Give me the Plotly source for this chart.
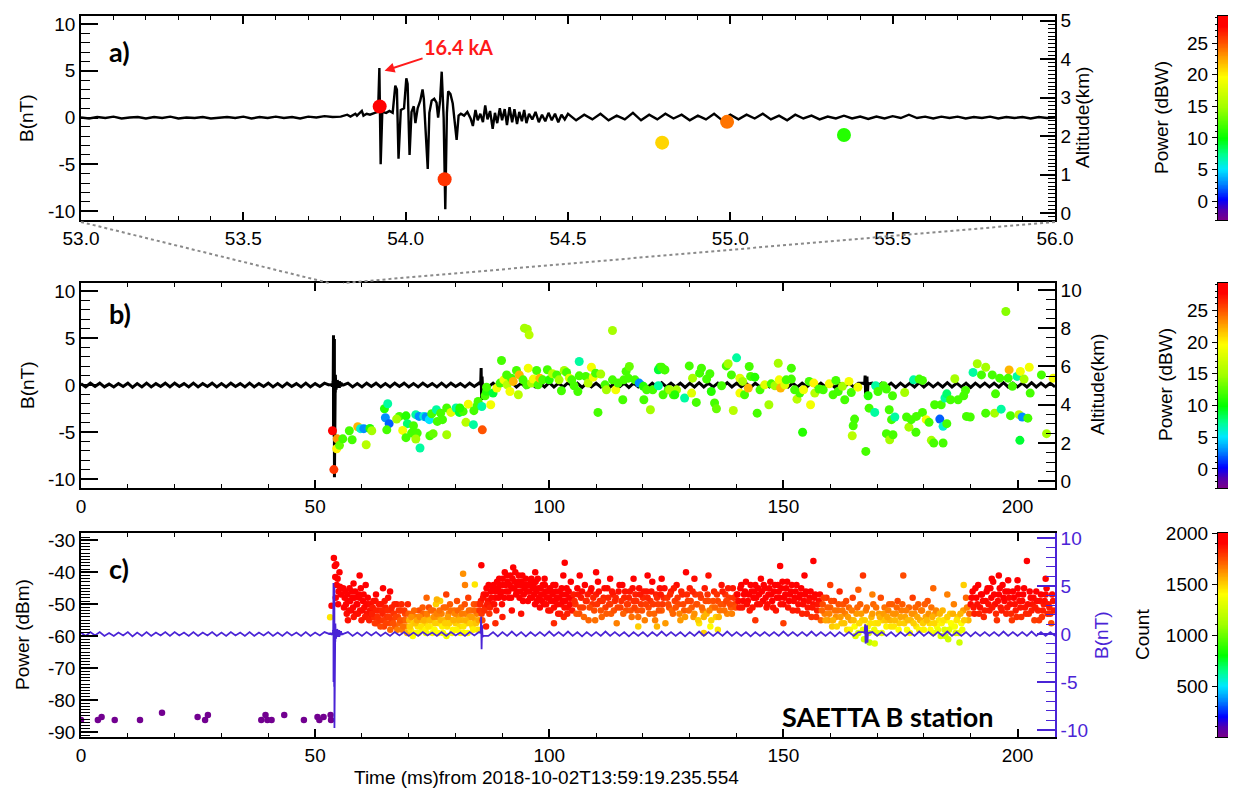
import numpy as np
import plotly.graph_objects as go

# ======================= DATA =======================
# Panel a: magnetic field waveform, 53-56 ms (nT)
a_pre_b = [0.0, -0.1, 0.05, -0.05, 0.1, -0.1, 0.0, 0.05, -0.1, 0.05, -0.05, 0.1, -0.1, 0.0, -0.05, 0.05,
           -0.1, 0.0, 0.05, -0.05, 0.1, -0.1, 0.05, -0.05, 0.1, -0.05, 0.05, -0.1, 0.1, 0.0, 0.15, 0.05]  # from 53.000 every 0.025 ms
a_burst = [(53.80, 0.1), (53.82, 0.3), (53.83, 0.1), (53.845, 0.4), (53.85, 0.2), (53.865, 0.7), (53.87, 0.2),
           (53.88, 0.4), (53.89, 0.3), (53.905, 0.5), (53.915, 0.6), (53.919, 5.3), (53.923, -5.0), (53.928, 0.6),
           (53.94, 0.5), (53.95, 0.7), (53.96, 0.5), (53.968, 3.4), (53.973, 3.0), (53.978, -4.4), (53.985, 0.8),
           (53.995, 1.0), (54.002, 4.2), (54.006, 3.6), (54.012, -4.0), (54.018, 0.6), (54.025, 1.2), (54.03, -0.6),
           (54.037, 1.0), (54.045, 1.8), (54.052, 3.0), (54.056, 2.0), (54.062, -1.5), (54.068, -5.5), (54.073, 0.5),
           (54.08, 1.8), (54.088, 2.0), (54.095, 1.6), (54.10, 0.0), (54.106, 1.8), (54.111, 4.9), (54.117, 0.0),
           (54.122, -9.8), (54.127, 0.5), (54.131, 2.8), (54.138, 2.5), (54.145, 1.5), (54.152, -0.5), (54.157, -2.4),
           (54.163, 0.2), (54.17, 0.4), (54.18, 0.2), (54.19, 0.6), (54.2, -0.1), (54.207, -0.9), (54.215, 0.8),
           (54.222, -0.3), (54.23, 0.4), (54.238, -0.5), (54.245, 1.3), (54.252, -0.2), (54.26, 0.7), (54.268, -1.2),
           (54.275, 0.5), (54.282, -0.6), (54.29, 1.0), (54.297, -0.3), (54.305, 0.9), (54.312, -0.8), (54.32, 1.1),
           (54.328, -0.5), (54.335, 0.9), (54.343, -0.7), (54.35, 0.6), (54.358, -0.4), (54.365, 0.8), (54.372, -0.6),
           (54.38, 0.4), (54.39, -0.2), (54.4, 0.6), (54.41, -0.5), (54.42, 0.3), (54.43, -0.4), (54.44, 0.5),
           (54.45, -0.3), (54.46, 0.4), (54.47, -0.5), (54.48, 0.3), (54.49, -0.2), (54.5, 0.4)]
a_post_b = [-0.3, 0.3, -0.2, 0.4, -0.3, 0.2, -0.2, 0.5, -0.3, 0.3, -0.2, 0.4, -0.1, 0.3, -0.3, 0.2, -0.2, 0.4, -0.3, 0.3,
            -0.2, 0.3, -0.1, 0.4, -0.2, 0.2, -0.3, 0.3, -0.1, 0.2, -0.2, 0.1, -0.1, 0.2, -0.1, 0.1, -0.15, 0.1, -0.1, 0.15,
            -0.05, 0.3, -0.05, 0.1, -0.1, 0.1, -0.05, 0.1, -0.1, 0.05, -0.05, 0.1, -0.1, 0.05, -0.05, 0.05, -0.1, 0.05,
            -0.05, 0.0]  # after 54.5 every 0.025 ms

# Panel a: located sources (time ms, altitude km, power dBW)
a_src_t = [53.92, 54.12, 54.79, 54.99, 55.35]
a_src_alt = [2.77, 0.88, 1.83, 2.37, 2.03]
a_src_pow = [28.5, 26.0, 21.0, 24.0, 11.0]

# Panels b/c: waveform baseline, 1 ms samples (nT)
b_pre = [0.15, -0.2, 0.2, -0.15, 0.2, -0.2, 0.1, -0.2, 0.15, -0.15, 0.2, -0.25, 0.15, -0.2, 0.2, -0.2, 0.15, -0.15,
         0.2, -0.2, 0.2, -0.15, 0.15, -0.2, 0.2, -0.2, 0.15, -0.15, 0.2, -0.2, 0.15, -0.2, 0.2, -0.15, 0.15, -0.2, 0.2,
         -0.2, 0.15, -0.15, 0.2, -0.2, 0.15, -0.2, 0.2, -0.15, 0.15, -0.2, 0.2, -0.2, 0.15, -0.15, 0.2]  # t = 0..52
b_post = [0.2, -0.2, 0.15, -0.2, 0.2, -0.15, 0.2, -0.2, 0.15, -0.2,
          0.2, -0.15, 0.2, -0.2, 0.15, -0.2, 0.2, -0.15, 0.15, -0.2,
          0.2, -0.2, 0.2, -0.15, 0.15, -0.2, 0.2, -0.15, 0.2, -0.2,
          -0.2, 0.2, -0.25, 0.2, -0.2, 0.25, -0.2, 0.2, -0.25, 0.2,
          -0.2, 0.2, -0.2, 0.25, -0.2, 0.2, -0.2, 0.25, -0.2, 0.2,
          -0.25, 0.2, -0.2, 0.2, -0.2, 0.25, -0.2, 0.2, -0.2, 0.2,
          -0.25, 0.2, -0.2, 0.2, -0.25, 0.2, -0.2, 0.25, -0.2, 0.2,
          -0.2, 0.2, -0.25, 0.2, -0.2, 0.25, -0.2, 0.2, -0.2, 0.2,
          -0.2, 0.25, -0.2, 0.2, -0.2, 0.2, -0.25, 0.2, -0.2, 0.2,
          -0.2, 0.2, -0.2, 0.25, -0.2, 0.2, -0.2, 0.2, -0.2, 0.25,
          -0.2, 0.2, -0.2, 0.2, -0.25, 0.2, -0.2, 0.2, -0.2, 0.2,
          0.2, -0.2, 0.2, -0.2, 0.2, -0.2, 0.2, -0.25, 0.2, -0.2,
          0.2, -0.2, 0.25, -0.2, 0.2, -0.2, 0.2, -0.2, 0.25, -0.2,
          0.2, -0.2, 0.2, -0.25, 0.2, -0.2, 0.2, -0.2, 0.2, -0.2,
          0.25, -0.2, 0.2, -0.2, 0.2, -0.2, 0.25, -0.2, 0.2, -0.2,
          0.2, -0.2]  # t = 57..208
# short isolated pulses on the baseline (t ms, B nT)
b_events = [(85.35, 0.1), (85.45, 1.8), (85.55, -1.6), (85.65, 0.9), (85.75, -0.3),
            (167.35, 0.1), (167.45, 1.0), (167.55, -1.0), (167.65, 0.2), (167.85, 0.9), (167.95, -0.9),
            (168.05, 0.1)]

# Panel b: sources (time ms, altitude km, power dBW)
b_src_1 = [(53.7, 2.64, 28), (54.0, 0.61, 26), (54.7, 2.22, 23), (54.6, 1.70, 20), (55.2, 1.88, 13), (55.9, 2.22, 12),
           (57.3, 2.64, 12), (57.9, 2.17, 12), (59.1, 2.85, 22), (59.7, 2.75, 6), (60.4, 2.75, 3), (60.9, 1.91, 16),
           (61.7, 2.76, 11), (62.1, 2.64, 15), (64.8, 3.79, 11), (65.5, 4.05, 7), (65.0, 3.32, 3), (65.8, 3.01, 2),
           (65.3, 2.69, 12), (68.0, 3.39, 12), (67.4, 3.25, 15), (69.4, 3.42, 11), (69.7, 3.01, 8), (68.7, 2.66, 19),
           (69.4, 2.28, 12), (71.0, 2.90, 12), (70.6, 2.52, 12), (71.8, 2.52, 12), (71.5, 2.21, 15), (72.4, 1.74, 7),
           (71.5, 3.48, 7), (72.2, 3.39, 3), (73.2, 3.39, 6), (73.7, 3.36, 3), (74.4, 3.22, 5), (74.9, 3.53, 12),
           (75.9, 3.74, 7), (76.1, 3.13, 12), (76.8, 3.56, 12), (77.2, 3.22, 12), (74.5, 2.38, 12), (75.2, 2.49, 13),
           (78.1, 3.83, 12), (78.1, 2.43, 15), (79.0, 3.60, 18), (80.1, 3.83, 7), (80.8, 3.60, 9), (81.6, 3.65, 12),
           (80.9, 3.83, 11), (82.2, 3.08, 16), (82.7, 4.03, 19), (83.8, 2.96, 7), (83.9, 3.69, 12), (84.6, 3.95, 12),
           (85.7, 2.69, 25), (84.8, 4.17, 12), (85.6, 3.91, 7), (86.3, 4.47, 12), (86.6, 4.70, 11), (87.5, 4.00, 19),
           (86.6, 4.92, 12), (88.0, 4.61, 9), (88.8, 4.87, 19), (89.8, 6.31, 12), (89.5, 5.13, 12)]
b_src_2 = [(90.3, 5.30, 19), (90.9, 5.56, 12), (91.0, 5.04, 16), (91.6, 4.69, 19), (91.9, 5.39, 12), (92.3, 5.22, 22),
           (93.0, 5.79, 12), (93.4, 4.52, 16), (93.6, 5.56, 22), (94.4, 5.30, 12), (94.7, 8.00, 15), (95.3, 7.95, 15),
           (95.7, 7.65, 16), (95.5, 5.91, 19), (95.2, 5.04, 12), (96.2, 5.13, 15), (96.6, 5.34, 19), (97.3, 5.79, 12),
           (97.6, 5.04, 12), (98.0, 5.39, 22), (98.6, 5.30, 12), (99.6, 5.83, 12), (100.0, 5.30, 11), (100.7, 5.62, 16),
           (101.6, 5.56, 12), (102.1, 5.30, 15), (102.6, 4.73, 12), (103.2, 5.79, 15), (103.7, 5.69, 12),
           (104.3, 5.39, 18), (104.8, 5.30, 12), (105.3, 4.99, 12), (106.1, 4.69, 12), (106.4, 6.26, 7),
           (106.4, 5.51, 12), (107.8, 5.48, 12), (108.3, 5.13, 16), (109.0, 5.96, 19), (109.4, 5.44, 19),
           (109.9, 5.65, 12), (110.4, 3.60, 12), (111.0, 5.60, 15), (111.9, 5.04, 12), (112.2, 4.78, 15),
           (113.5, 7.88, 15), (113.5, 5.30, 12), (114.2, 4.78, 19), (114.7, 5.13, 12), (115.7, 4.26, 12),
           (115.9, 5.30, 12), (116.4, 5.74, 12), (117.1, 6.00, 13), (116.9, 5.39, 12), (118.3, 5.30, 12),
           (119.2, 5.13, 3), (120.1, 4.96, 11), (120.2, 4.26, 12), (120.8, 4.78, 12), (121.6, 3.74, 15),
           (122.1, 4.78, 12), (123.3, 4.99, 7), (123.6, 5.96, 12), (123.3, 5.83, 9), (124.6, 5.83, 12),
           (124.3, 4.52, 12), (125.4, 4.78, 12), (126.5, 4.52, 12), (127.2, 4.78, 15)]
b_src_3 = [(124.0, 5.96, 12), (124.7, 5.82, 12), (125.7, 4.78, 15), (126.8, 4.52, 11), (128.9, 4.35, 7),
           (129.9, 6.03, 12), (130.6, 5.39, 15), (130.4, 4.61, 18), (131.4, 4.12, 12), (132.1, 5.65, 12),
           (132.5, 5.91, 12), (133.6, 5.34, 12), (134.3, 5.62, 12), (134.6, 4.69, 11), (135.3, 4.09, 12),
           (135.7, 3.79, 13), (136.8, 4.99, 12), (137.8, 6.03, 12), (138.2, 6.14, 15), (138.9, 5.56, 12),
           (139.3, 3.70, 16), (140.0, 6.45, 7), (140.7, 5.39, 18), (141.3, 5.22, 15), (140.7, 4.61, 19),
           (141.7, 4.52, 12), (142.5, 4.87, 22), (142.7, 6.00, 12), (143.0, 5.48, 12), (143.9, 5.44, 11),
           (144.4, 3.56, 12), (145.0, 4.78, 12), (146.0, 5.04, 18), (146.9, 4.00, 15), (147.4, 5.09, 12),
           (148.2, 4.99, 15), (148.9, 6.17, 15), (149.1, 5.30, 19), (149.4, 4.87, 22), (150.3, 5.04, 18),
           (150.6, 5.30, 12), (151.7, 5.91, 12), (151.7, 5.34, 12), (152.4, 4.78, 12), (152.9, 4.29, 16),
           (153.5, 4.61, 12), (154.1, 2.56, 11), (154.3, 4.78, 19), (155.5, 5.22, 12), (155.8, 4.00, 19),
           (156.5, 5.13, 20), (156.7, 4.61, 16), (157.6, 4.82, 12), (158.5, 4.78, 12), (159.8, 5.09, 19),
           (160.6, 4.52, 12), (161.2, 5.27, 12), (161.7, 4.69, 12), (162.6, 4.96, 15), (163.1, 4.26, 12),
           (164.0, 5.22, 19), (164.5, 4.64, 12), (165.2, 3.25, 12), (164.9, 2.90, 12), (164.7, 2.38, 16),
           (165.9, 4.92, 19), (167.6, 1.56, 12), (168.1, 4.47, 11), (168.3, 3.82, 12), (169.7, 4.99, 7),
           (170.2, 4.69, 12), (169.5, 3.60, 7), (171.4, 4.99, 12), (172.0, 4.82, 12), (172.6, 3.74, 12),
           (173.1, 3.22, 12), (173.8, 3.36, 7), (173.3, 4.47, 12), (172.0, 2.49, 12), (172.7, 2.17, 15),
           (173.4, 2.43, 12), (175.9, 4.64, 15), (176.3, 3.36, 12), (176.8, 2.83, 15), (177.3, 3.22, 12),
           (177.8, 5.30, 7), (178.3, 2.56, 12), (178.4, 3.39, 12), (179.0, 5.34, 12), (179.7, 5.27, 12),
           (179.7, 3.60, 12), (180.5, 3.22, 19), (181.1, 3.08, 12), (181.6, 2.14, 15), (182.1, 2.00, 12),
           (182.3, 4.00, 12), (183.4, 3.25, 2), (183.7, 4.00, 12), (184.1, 2.87, 6), (184.5, 4.35, 7),
           (184.9, 4.57, 8), (184.1, 2.00, 12), (184.9, 3.01, 12), (185.7, 4.26, 12), (186.6, 5.36, 15),
           (187.3, 4.26, 12), (188.5, 4.47, 12), (188.9, 4.75, 12), (189.1, 3.39, 12), (189.9, 3.36, 12),
           (190.5, 5.69, 7), (191.4, 6.14, 15), (192.3, 5.56, 12), (193.2, 5.96, 15), (193.2, 3.56, 12),
           (194.6, 5.56, 12), (195.1, 3.56, 15), (195.3, 4.57, 12), (196.2, 5.39, 12), (196.5, 3.77, 7),
           (197.5, 8.87, 14), (198.2, 5.82, 22), (198.0, 5.39, 12), (198.5, 3.43, 12), (198.9, 4.96, 12),
           (199.9, 5.48, 7), (200.6, 5.74, 19), (200.3, 3.48, 16), (201.0, 3.36, 3), (200.5, 2.14, 9),
           (201.4, 5.34, 15), (202.2, 3.30, 12), (202.5, 5.96, 19), (202.7, 4.61, 12), (205.1, 5.56, 12),
           (206.2, 2.49, 15), (207.6, 5.39, 19)]

# Panel c: VHF sources (time ms, power dBm, count)
c_quiet = [(0.0, -86.3, 20), (3.6, -86.3, 20), (4.4, -85.3, 20), (7.2, -86.3, 20), (12.6, -86.3, 20),
           (17.3, -84.0, 20), (24.9, -85.3, 20), (26.5, -86.3, 20), (27.1, -84.7, 20), (38.5, -86.3, 20),
           (39.4, -84.7, 20), (39.8, -86.3, 20), (40.7, -86.3, 20), (43.4, -84.7, 20), (47.6, -86.3, 20),
           (50.5, -85.3, 20), (50.9, -86.3, 20), (51.8, -85.3, 20), (53.3, -84.7, 20), (53.4, -86.3, 20)]
c_src_1 = [(53.2, -54.1, 1450), (53.5, -50.5, 1950), (54.0, -35.5, 1990), (54.2, -38, 1980), (54.5, -37.5, 1980),
           (54.3, -41.5, 1970), (54.8, -42, 1960), (55.2, -40, 1970), (54.6, -44, 1950), (55.0, -46, 1940),
           (54.4, -48, 1930), (55.5, -47, 1930), (54.9, -50, 1920), (55.3, -44.5, 1950),
           (56.0, -45, 1900), (56.3, -48, 1920), (56.6, -50, 1900), (56.9, -47, 1930), (57.2, -52, 1880),
           (57.5, -49, 1910), (57.8, -46, 1920), (58.1, -51, 1890), (58.4, -48, 1900), (58.7, -53, 1870),
           (59.0, -50, 1900), (59.3, -47, 1930), (59.6, -52, 1880), (59.9, -55, 1850), (60.2, -49, 1900),
           (60.5, -51, 1880), (60.8, -44, 1940), (61.1, -53, 1860), (61.4, -50, 1880), (61.7, -52, 1870),
           (59.5, -41, 1960), (58.2, -43.5, 1950), (57.0, -55, 1870), (62.0, -54, 1850),
           (56.15, -51, 1900), (56.45, -46, 1930), (56.75, -53, 1880), (57.05, -49, 1910), (57.35, -45, 1940),
           (57.65, -52, 1890), (57.95, -48, 1920), (58.25, -54, 1860), (58.55, -46, 1930), (58.85, -50, 1900),
           (59.15, -53, 1870), (59.45, -48, 1920), (59.75, -45, 1940), (60.05, -52, 1880), (60.35, -47, 1920),
           (60.65, -54, 1850), (60.95, -50, 1890), (61.25, -48, 1910), (61.55, -55, 1840), (61.85, -50, 1880)]
c_src_2 = [(62.3, -51, 1850), (62.6, -54, 1820), (62.9, -49, 1870), (63.2, -56, 1800), (63.5, -52, 1850),
           (63.8, -55, 1800), (64.1, -50, 1860), (64.4, -53, 1830), (64.7, -57, 1780), (65.0, -51, 1840),
           (65.3, -54, 1800), (65.6, -48, 1880), (65.9, -56, 1760), (66.2, -52, 1820), (66.5, -55, 1780),
           (66.8, -53, 1800), (67.1, -57, 1720), (67.4, -50, 1850), (67.7, -54, 1760), (68.0, -56, 1700),
           (68.3, -52, 1800), (68.6, -58, 1650), (68.9, -55, 1720), (69.2, -53, 1760), (69.5, -57, 1600),
           (69.8, -50, 1830), (66.0, -46, 1900), (63.0, -47, 1900), (64.5, -45, 1910),
           (62.15, -53, 1840), (62.45, -49, 1870), (62.75, -56, 1790), (63.05, -52, 1840), (63.35, -54, 1810),
           (63.65, -50, 1860), (63.95, -57, 1760), (64.25, -52, 1830), (64.55, -55, 1790), (64.85, -49, 1860),
           (65.15, -56, 1770), (65.45, -52, 1820), (65.75, -54, 1790), (66.05, -58, 1700), (66.35, -51, 1830),
           (66.65, -56, 1740), (66.95, -50, 1840), (67.25, -54, 1770), (67.55, -58, 1660), (67.85, -52, 1800),
           (68.15, -55, 1730), (68.45, -50, 1820), (68.75, -57, 1680), (69.05, -52, 1790), (69.35, -55, 1700),
           (69.65, -59, 1550), (69.95, -53, 1720)]
c_src_3 = [(70.1, -55, 1550), (70.4, -58, 1450), (70.7, -53, 1700), (71.0, -56, 1500), (71.3, -59, 1400),
           (71.6, -54, 1650), (71.9, -57, 1450), (72.2, -52, 1750), (72.5, -55, 1550), (72.8, -58, 1380),
           (73.1, -53, 1700), (73.4, -56, 1500), (73.7, -59, 1350), (74.0, -54, 1600), (74.3, -51, 1750),
           (74.6, -57, 1420), (74.9, -55, 1550), (75.2, -52, 1700), (75.5, -58, 1400), (75.8, -50, 1500),
           (76.1, -54, 1600), (76.4, -56, 1480), (76.7, -49, 1500), (77.0, -53, 1650), (77.3, -59, 1380),
           (77.6, -55, 1550), (77.9, -51, 1700), (78.2, -57, 1450), (78.5, -53, 1650), (78.8, -50, 1720),
           (79.1, -55, 1560), (79.4, -58, 1420), (79.7, -52, 1680), (80.0, -56, 1500), (80.3, -49, 1750),
           (80.6, -54, 1600), (80.9, -57, 1480), (81.2, -51, 1700), (81.5, -55, 1550), (81.8, -59, 1420),
           (82.1, -53, 1650), (82.4, -56, 1500), (82.7, -48, 1780), (83.0, -54, 1600), (83.3, -52, 1680),
           (83.6, -57, 1460), (83.9, -50, 1740), (84.2, -55, 1580), (84.5, -53, 1650), (84.8, -58, 1450),
           (76.0, -48.5, 1550), (82.0, -44, 1650), (81.6, -40.5, 1620), (84.1, -43.8, 1450), (73.8, -48, 1700),
           (78.0, -47, 1780),
           (70.25, -57, 1500), (70.55, -54, 1620), (70.85, -60, 1400), (71.15, -52, 1700), (71.45, -56, 1520),
           (71.75, -55, 1580), (72.05, -59, 1380), (72.35, -54, 1640), (72.65, -57, 1460), (72.95, -51, 1720),
           (73.25, -55, 1560), (73.55, -58, 1420), (73.85, -53, 1660), (74.15, -57, 1450), (74.45, -55, 1540),
           (74.75, -52, 1700), (75.05, -59, 1380), (75.35, -54, 1620), (75.65, -56, 1500), (75.95, -53, 1650),
           (76.25, -59, 1400), (76.55, -52, 1680), (76.85, -55, 1550), (77.15, -57, 1430), (77.45, -51, 1700),
           (77.75, -56, 1500), (78.05, -60, 1360), (78.35, -54, 1600), (78.65, -56, 1500), (78.95, -52, 1680),
           (79.25, -59, 1380), (79.55, -55, 1560), (79.85, -53, 1640), (80.15, -58, 1420), (80.45, -52, 1700),
           (80.75, -55, 1560), (81.05, -59, 1400), (81.35, -53, 1660), (81.65, -57, 1450), (81.95, -50, 1740),
           (82.25, -55, 1560), (82.55, -59, 1400), (82.85, -52, 1690), (83.15, -56, 1500), (83.45, -54, 1600),
           (83.75, -58, 1430), (84.05, -52, 1700), (84.35, -56, 1520), (84.65, -50, 1760), (84.95, -55, 1580)]
c_src_4 = [(85.1, -52, 1800), (85.4, -49, 1850), (85.7, -55, 1750), (86.0, -47, 1880), (86.3, -51, 1820),
           (86.6, -45, 1920), (86.9, -49, 1870), (87.2, -53, 1800), (87.5, -46, 1930), (87.8, -50, 1880),
           (88.1, -44, 1950), (88.4, -48, 1910), (88.7, -52, 1850), (89.0, -45, 1950), (89.3, -42, 1970),
           (89.6, -47, 1930), (89.9, -50, 1880), (90.2, -44, 1960), (90.5, -40, 1980), (90.8, -46, 1940),
           (91.1, -43, 1970), (91.4, -48, 1920), (91.7, -41, 1980), (92.0, -45, 1960), (92.3, -38.5, 1990),
           (92.6, -43, 1970), (92.9, -47, 1930), (93.2, -44, 1960), (93.5, -41, 1980), (93.8, -46, 1950),
           (94.1, -43, 1970), (94.4, -49, 1900), (94.7, -45, 1950), (95.0, -42, 1970), (85.5, -37.8, 1950),
           (86.5, -57, 1850), (88.5, -56, 1820), (90.0, -54, 1850), (92.0, -52, 1880), (94.0, -53, 1870),
           (85.25, -50, 1830), (85.55, -53, 1790), (85.85, -48, 1870), (86.15, -52, 1810), (86.45, -47, 1890),
           (86.75, -50, 1850), (87.05, -44, 1940), (87.35, -51, 1830), (87.65, -48, 1890), (87.95, -45, 1930),
           (88.25, -50, 1870), (88.55, -46, 1920), (88.85, -43, 1960), (89.15, -48, 1910), (89.45, -44, 1950),
           (89.75, -46, 1930), (90.05, -42, 1970), (90.35, -48, 1910), (90.65, -44, 1960), (90.95, -41, 1980),
           (91.25, -46, 1940), (91.55, -44, 1960), (91.85, -48, 1920), (92.15, -42, 1970), (92.45, -45, 1950),
           (92.75, -40, 1980), (93.05, -46, 1940), (93.35, -43, 1970), (93.65, -48, 1920), (93.95, -44, 1960),
           (94.25, -41, 1980), (94.55, -47, 1930), (94.85, -44, 1960)]
c_src_5 = [(95.3, -46, 1940), (95.6, -44, 1960), (95.9, -48, 1920), (96.2, -42, 1970), (96.5, -45, 1950),
           (96.8, -47, 1930), (97.1, -43, 1960), (97.4, -49, 1910), (97.7, -45, 1940), (98.0, -51, 1890),
           (98.3, -47, 1920), (98.6, -44, 1950), (98.9, -50, 1900), (99.2, -46, 1930), (99.5, -48, 1910),
           (99.8, -52, 1870), (100.1, -45, 1940), (100.4, -49, 1900), (100.7, -47, 1920), (101.0, -51, 1880),
           (101.3, -44, 1950), (101.6, -48, 1910), (101.9, -53, 1860), (102.2, -46, 1930), (102.5, -50, 1890),
           (102.8, -47, 1920), (103.1, -54, 1820), (103.4, -49, 1900), (103.7, -45, 1940), (104.0, -51, 1880),
           (104.3, -48, 1900), (104.6, -43, 1950), (104.9, -52, 1860), (97.0, -40, 1980), (99.0, -42, 1960),
           (101.0, -56, 1820), (103.0, -41, 1960), (103.3, -37, 1990),
           (95.15, -44, 1960), (95.45, -49, 1910), (95.75, -46, 1940), (96.05, -43, 1960), (96.35, -48, 1920),
           (96.65, -44, 1950), (96.95, -50, 1900), (97.25, -46, 1930), (97.55, -42, 1960), (97.85, -48, 1910),
           (98.15, -45, 1940), (98.45, -49, 1900), (98.75, -47, 1920), (99.05, -44, 1950), (99.35, -50, 1890),
           (99.65, -46, 1930), (99.95, -48, 1910), (100.25, -52, 1870), (100.55, -46, 1930), (100.85, -44, 1950),
           (101.15, -49, 1900), (101.45, -46, 1930), (101.75, -50, 1890), (102.05, -48, 1910), (102.35, -53, 1850),
           (102.65, -45, 1940), (102.95, -49, 1900), (103.25, -51, 1880), (103.55, -47, 1920), (103.85, -53, 1840),
           (104.15, -46, 1930), (104.45, -50, 1890), (104.75, -48, 1900)]
c_src_6 = [(105.2, -47, 1850), (105.6, -50, 1800), (106.0, -45, 1900), (106.4, -53, 1750), (106.8, -48, 1850),
           (107.2, -51, 1780), (107.6, -44, 1900), (108.0, -49, 1820), (108.4, -55, 1700), (108.8, -46, 1880),
           (109.2, -50, 1800), (109.6, -52, 1750), (110.0, -47, 1850), (110.4, -43, 1920), (110.8, -49, 1820),
           (111.2, -54, 1700), (111.6, -48, 1830), (112.0, -51, 1780), (112.4, -45, 1880), (112.8, -50, 1800),
           (113.2, -53, 1720), (113.6, -47, 1850), (114.0, -49, 1820), (114.4, -56, 1650), (114.8, -46, 1870),
           (115.2, -51, 1780), (115.6, -44, 1900), (116.0, -48, 1830), (116.4, -52, 1750), (116.8, -50, 1790),
           (117.2, -46, 1860), (117.6, -54, 1680), (118.0, -49, 1810), (118.4, -47, 1840), (118.8, -52, 1740),
           (119.2, -45, 1880), (119.6, -50, 1790), (120.0, -48, 1820), (120.4, -55, 1650), (120.8, -46, 1860),
           (121.2, -51, 1760), (121.6, -49, 1800), (122.0, -43, 1910), (122.4, -53, 1700), (122.8, -47, 1840),
           (123.2, -50, 1780), (123.6, -45, 1880), (124.0, -52, 1720), (124.4, -48, 1820), (124.8, -56, 1600),
           (106.5, -41, 1900), (110.0, -40, 1940), (113.0, -42, 1920), (118.0, -42, 1900), (121.0, -41, 1920),
           (124.0, -42, 1900), (119.0, -57, 1500), (123.0, -57, 1550),
           (105.4, -49, 1820), (105.8, -53, 1740), (106.2, -47, 1860), (106.6, -51, 1780), (107.0, -46, 1880),
           (107.4, -54, 1700), (107.8, -49, 1820), (108.2, -47, 1850), (108.6, -51, 1760), (109.0, -45, 1890),
           (109.4, -48, 1830), (109.8, -55, 1680), (110.2, -50, 1800), (110.6, -46, 1870), (111.0, -52, 1740),
           (111.4, -49, 1810), (111.8, -45, 1880), (112.2, -53, 1720), (112.6, -48, 1830), (113.0, -50, 1790),
           (113.4, -46, 1860), (113.8, -52, 1740), (114.2, -48, 1830), (114.6, -51, 1770), (115.0, -44, 1900),
           (115.4, -49, 1810), (115.8, -53, 1710), (116.2, -46, 1860), (116.6, -50, 1790), (117.0, -48, 1830),
           (117.4, -52, 1740), (117.8, -45, 1880), (118.2, -51, 1770), (118.6, -49, 1810), (119.0, -54, 1680),
           (119.4, -47, 1850), (119.8, -52, 1740), (120.2, -46, 1860), (120.6, -50, 1780), (121.0, -48, 1830),
           (121.4, -53, 1700), (121.8, -46, 1860), (122.2, -50, 1790), (122.6, -55, 1650), (123.0, -48, 1820),
           (123.4, -52, 1740), (123.8, -47, 1850), (124.2, -50, 1790), (124.6, -45, 1880)]
c_src_7 = [(125.2, -48, 1800), (125.6, -51, 1750), (126.0, -46, 1850), (126.4, -53, 1700), (126.8, -49, 1780),
           (127.2, -44, 1880), (127.6, -50, 1760), (128.0, -55, 1600), (128.4, -47, 1830), (128.8, -52, 1720),
           (129.2, -40, 1900), (129.6, -49, 1780), (130.0, -45, 1850), (130.4, -51, 1720), (130.8, -54, 1600),
           (131.2, -47, 1800), (131.6, -50, 1740), (132.0, -56, 1450), (132.4, -48, 1780), (132.8, -52, 1650),
           (133.2, -45, 1850), (133.6, -53, 1550), (134.0, -49, 1750), (134.4, -57, 1400), (134.8, -51, 1680),
           (135.2, -46, 1820), (135.6, -54, 1500), (136.0, -49, 1760), (136.4, -52, 1680), (136.8, -44, 1870),
           (137.2, -50, 1750), (137.6, -47, 1800), (138.0, -53, 1640), (138.4, -48, 1790), (138.8, -51, 1720),
           (139.2, -45, 1860), (139.6, -50, 1770), (140.0, -47, 1820), (131.0, -42, 1880), (134.0, -41, 1870),
           (136.0, -58, 1450), (133.0, -59, 1500),
           (125.4, -50, 1760), (125.8, -47, 1820), (126.2, -52, 1700), (126.6, -45, 1850), (127.0, -51, 1740),
           (127.4, -48, 1800), (127.8, -53, 1650), (128.2, -46, 1830), (128.6, -50, 1760), (129.0, -54, 1600),
           (129.4, -47, 1820), (129.8, -52, 1700), (130.2, -49, 1770), (130.6, -46, 1830), (131.0, -53, 1620),
           (131.4, -50, 1740), (131.8, -55, 1500), (132.2, -47, 1800), (132.6, -51, 1700), (133.0, -54, 1550),
           (133.4, -49, 1760), (133.8, -47, 1800), (134.2, -52, 1650), (134.6, -55, 1480), (135.0, -49, 1750),
           (135.4, -51, 1700), (135.8, -47, 1800), (136.2, -54, 1550), (136.6, -50, 1740), (137.0, -46, 1840),
           (137.4, -52, 1680), (137.8, -49, 1770), (138.2, -45, 1850), (138.6, -50, 1760), (139.0, -53, 1650),
           (139.4, -48, 1800), (139.8, -51, 1740)]
c_src_8 = [(140.4, -49, 1880), (140.8, -45, 1930), (141.2, -51, 1860), (141.6, -47, 1910), (142.0, -43, 1950),
           (142.4, -49, 1890), (142.8, -52, 1850), (143.2, -46, 1930), (143.6, -48, 1910), (144.0, -44, 1950),
           (144.4, -50, 1880), (144.8, -47, 1920), (145.2, -42, 1970), (145.6, -49, 1900), (146.0, -45, 1940),
           (146.4, -51, 1870), (146.8, -47, 1920), (147.2, -43, 1960), (147.6, -49, 1900), (148.0, -46, 1930),
           (148.4, -52, 1860), (148.8, -44, 1950), (149.2, -48, 1910), (149.6, -45, 1940), (150.0, -50, 1890),
           (150.4, -47, 1920), (150.8, -43, 1960), (151.2, -49, 1900), (151.6, -46, 1930), (152.0, -52, 1850),
           (152.4, -48, 1910), (152.8, -44, 1950), (153.2, -50, 1880), (153.6, -47, 1920), (154.0, -53, 1830),
           (154.4, -49, 1890), (154.8, -46, 1930), (155.2, -51, 1860), (155.6, -48, 1900), (156.0, -54, 1800),
           (156.4, -50, 1870), (156.8, -47, 1910), (157.2, -52, 1840), (157.6, -49, 1880), (149.3, -38, 1990),
           (156.4, -36.5, 1990), (154.5, -41, 1960), (158.0, -55, 1700), (144.0, -55, 1800), (150.0, -56, 1780),
           (140.2, -47, 1900), (140.6, -51, 1860), (141.0, -44, 1950), (141.4, -49, 1890), (141.8, -46, 1920),
           (142.2, -50, 1880), (142.6, -47, 1910), (143.0, -44, 1950), (143.4, -51, 1860), (143.8, -46, 1930),
           (144.2, -48, 1900), (144.6, -45, 1940), (145.0, -50, 1880), (145.4, -46, 1930), (145.8, -44, 1950),
           (146.2, -48, 1910), (146.6, -50, 1880), (147.0, -45, 1940), (147.4, -47, 1910), (147.8, -51, 1870),
           (148.2, -44, 1950), (148.6, -48, 1910), (149.0, -46, 1930), (149.4, -50, 1880), (149.8, -43, 1960),
           (150.2, -48, 1900), (150.6, -45, 1940), (151.0, -51, 1860), (151.4, -47, 1910), (151.8, -44, 1950),
           (152.2, -49, 1890), (152.6, -46, 1920), (153.0, -52, 1850), (153.4, -48, 1900), (153.8, -45, 1930),
           (154.2, -50, 1880), (154.6, -47, 1910), (155.0, -53, 1830), (155.4, -49, 1880), (155.8, -46, 1920),
           (156.2, -51, 1860), (156.6, -48, 1890), (157.0, -54, 1800), (157.4, -50, 1860), (157.8, -47, 1890)]
c_src_9 = [(158.4, -50, 1750), (158.8, -53, 1650), (159.2, -48, 1800), (159.6, -55, 1600), (160.0, -51, 1720),
           (160.4, -57, 1500), (160.8, -49, 1780), (161.2, -54, 1620), (161.6, -52, 1680), (162.0, -46, 1820),
           (162.4, -56, 1520), (162.8, -50, 1740), (163.2, -53, 1650), (163.6, -58, 1450), (164.0, -51, 1700),
           (164.4, -55, 1580), (164.8, -48, 1780), (165.2, -57, 1400), (165.6, -53, 1600), (166.0, -59, 1300),
           (166.4, -50, 1720), (166.8, -55, 1500), (167.2, -61, 1250), (167.6, -52, 1650), (168.0, -57, 1380),
           (168.4, -62, 1200), (168.8, -54, 1550), (169.2, -50, 1700), (169.6, -56, 1450), (170.0, -59, 1300),
           (170.4, -53, 1600), (170.8, -48, 1750), (171.2, -55, 1500), (171.6, -51, 1680), (172.0, -57, 1420),
           (160.0, -44, 1780), (166.0, -45.5, 1720), (167.0, -41, 1800), (169.0, -47, 1650), (169.5, -62.3, 1300),
           (158.2, -52, 1700), (158.6, -48, 1780), (159.0, -55, 1580), (159.4, -51, 1720), (159.8, -53, 1650),
           (160.2, -49, 1760), (160.6, -55, 1560), (161.0, -52, 1680), (161.4, -57, 1480), (161.8, -50, 1740),
           (162.2, -54, 1600), (162.6, -52, 1670), (163.0, -56, 1520), (163.4, -49, 1760), (163.8, -54, 1600),
           (164.2, -58, 1420), (164.6, -52, 1660), (165.0, -55, 1540), (165.4, -60, 1300), (165.8, -51, 1700),
           (166.2, -56, 1480), (166.6, -53, 1600), (167.0, -58, 1350), (167.4, -55, 1500), (167.8, -51, 1680),
           (168.2, -59, 1300), (168.6, -56, 1450), (169.0, -53, 1600), (169.4, -58, 1350), (169.8, -51, 1680),
           (170.2, -56, 1460), (170.6, -54, 1560), (171.0, -59, 1320), (171.4, -53, 1600), (171.8, -55, 1520)]
c_src_10 = [(172.4, -52, 1650), (172.8, -55, 1550), (173.2, -50, 1720), (173.6, -57, 1450), (174.0, -53, 1620),
            (174.4, -49, 1760), (174.8, -56, 1500), (175.2, -52, 1660), (175.6, -41, 1750), (176.0, -54, 1580),
            (176.4, -58, 1400), (176.8, -51, 1700), (177.2, -55, 1550), (177.6, -48, 1780), (178.0, -53, 1620),
            (178.4, -57, 1450), (178.8, -50, 1720), (179.2, -55, 1560), (179.6, -52, 1650), (180.0, -58, 1420),
            (180.4, -54, 1580), (180.8, -49, 1740), (181.2, -56, 1480), (181.6, -51, 1680), (182.0, -59, 1350),
            (182.4, -53, 1600), (182.8, -57, 1400), (183.2, -55, 1450), (183.6, -60, 1280), (184.0, -52, 1550),
            (184.4, -58, 1300), (184.8, -55, 1400), (185.2, -61, 1250), (185.6, -53, 1500), (186.0, -57, 1350),
            (186.4, -50, 1650), (186.8, -59, 1300), (187.2, -54, 1500), (187.6, -62, 1250), (188.0, -56, 1400),
            (188.4, -52, 1600), (189.0, -48, 1700), (189.5, -55, 1550), (182.0, -45, 1700), (185.0, -47, 1650),
            (188.5, -44, 1500),
            (172.2, -54, 1580), (172.6, -50, 1720), (173.0, -57, 1450), (173.4, -53, 1620), (173.8, -55, 1540),
            (174.2, -51, 1700), (174.6, -58, 1400), (175.0, -54, 1580), (175.4, -50, 1720), (175.8, -56, 1500),
            (176.2, -52, 1660), (176.6, -55, 1540), (177.0, -59, 1380), (177.4, -53, 1620), (177.8, -56, 1500),
            (178.2, -51, 1700), (178.6, -54, 1580), (179.0, -58, 1420), (179.4, -52, 1660), (179.8, -56, 1500),
            (180.2, -50, 1720), (180.6, -55, 1540), (181.0, -53, 1620), (181.4, -58, 1400), (181.8, -54, 1560),
            (182.2, -56, 1480), (182.6, -52, 1640), (183.0, -58, 1350), (183.4, -53, 1550), (183.8, -56, 1420),
            (184.2, -55, 1450), (184.6, -60, 1250), (185.0, -54, 1500), (185.4, -58, 1320), (185.8, -56, 1400),
            (186.2, -53, 1560), (186.6, -57, 1380), (187.0, -55, 1450), (187.4, -59, 1300), (187.8, -53, 1550),
            (188.2, -58, 1350), (188.6, -55, 1500), (189.2, -51, 1650), (189.7, -53, 1700)]
c_src_11 = [(190.0, -50, 1880), (190.4, -46, 1930), (190.8, -53, 1840), (191.2, -48, 1900), (191.6, -44, 1950),
            (192.0, -51, 1870), (192.4, -47, 1910), (192.8, -54, 1820), (193.2, -49, 1890), (193.6, -45, 1940),
            (194.0, -52, 1850), (194.4, -48, 1900), (194.8, -43, 1960), (195.2, -50, 1880), (195.6, -55, 1800),
            (196.0, -47, 1910), (196.4, -51, 1860), (196.8, -44, 1950), (197.2, -49, 1890), (197.6, -53, 1830),
            (198.0, -46, 1920), (198.4, -50, 1870), (198.8, -55, 1790), (199.2, -48, 1900), (199.6, -52, 1850),
            (200.0, -45, 1930), (200.4, -49, 1880), (200.8, -54, 1810), (201.2, -47, 1900), (201.6, -51, 1860),
            (202.0, -36.5, 1990), (202.4, -53, 1820), (202.8, -48, 1890), (203.2, -50, 1860), (203.6, -55, 1780),
            (204.0, -46, 1910), (204.4, -52, 1840), (204.8, -49, 1870), (205.2, -54, 1800), (205.6, -50, 1850),
            (206.0, -47, 1890), (206.4, -53, 1820), (206.8, -51, 1840), (207.2, -56, 1760), (207.6, -49, 1860),
            (196.0, -41, 1960), (198.0, -42.5, 1940), (200.0, -42.5, 1940), (206.0, -42, 1900), (194.5, -42, 1940),
            (190.2, -48, 1900), (190.6, -51, 1860), (191.0, -45, 1940), (191.4, -50, 1870), (191.8, -53, 1830),
            (192.2, -47, 1910), (192.6, -49, 1880), (193.0, -52, 1850), (193.4, -46, 1920), (193.8, -50, 1870),
            (194.2, -45, 1940), (194.6, -51, 1860), (195.0, -47, 1910), (195.4, -53, 1820), (195.8, -49, 1880),
            (196.2, -45, 1940), (196.6, -52, 1850), (197.0, -48, 1900), (197.4, -46, 1920), (197.8, -51, 1860),
            (198.2, -48, 1890), (198.6, -53, 1820), (199.0, -46, 1920), (199.4, -50, 1870), (199.8, -54, 1810),
            (200.2, -47, 1910), (200.6, -51, 1860), (201.0, -49, 1880), (201.4, -45, 1930), (201.8, -53, 1830),
            (202.2, -50, 1870), (202.6, -46, 1910), (203.0, -52, 1840), (203.4, -48, 1890), (203.8, -51, 1850),
            (204.2, -49, 1880), (204.6, -55, 1790), (205.0, -47, 1900), (205.4, -52, 1840), (205.8, -49, 1870),
            (206.2, -45, 1920), (206.6, -50, 1860), (207.0, -53, 1820), (207.4, -47, 1890), (207.8, -52, 1840)]

# axis ranges / tick values
A_XRANGE = [53.0, 56.0]
B_XRANGE = [0.0, 208.0]
BNT_RANGE = [-10.95, 10.85]
A_ALT_RANGE = [-0.18, 5.12]
B_ALT_RANGE = [-0.35, 10.36]
C_PWR_RANGE = [-91.6, -27.7]
C_BNT_RANGE = [-10.73, 10.52]
DBW_RANGE = [-3.0, 29.3]
COUNT_RANGE = [0.0, 2000.0]
BNT_TICKS = [-10, -5, 0, 5, 10]
PWR_TICKS = [-90, -80, -70, -60, -50, -40, -30]
A_ALT_TICKS = [0, 1, 2, 3, 4, 5]
B_ALT_TICKS = [0, 2, 4, 6, 8, 10]
DBW_TICKS = [0, 5, 10, 15, 20, 25]
COUNT_TICKS = [500, 1000, 1500, 2000]

# ======================= BUILD =======================
# the page body adds an 8 px margin: the figure is sized/positioned to compensate
OFF = 8
FW, FH = 1236 - OFF, 788 - OFF


def PX(p):
    return (p - OFF) / FW


def PY(p):
    return 1 - (p - OFF) / FH


XD = [PX(81), PX(1055)]
YA = [PY(220), PY(16)]
YB = [PY(488), PY(283)]
YC = [PY(737), PY(533)]
CBX = [PX(1218), PX(1235)]

RAINBOW = [[0.0, "#7a0088"], [0.05, "#5000b0"], [0.1, "#0000ff"], [0.175, "#0080ff"], [0.25, "#00e8ff"],
           [0.32, "#00ff90"], [0.4, "#00ff00"], [0.55, "#a0ff00"], [0.7, "#ffff00"], [0.78, "#ffb000"],
           [0.87, "#ff5000"], [0.95, "#ff0000"], [1.0, "#ff0000"]]
BLUE = "#4a24d6"
FONT = "Liberation Sans, Arial, sans-serif"
BOLD = "Lato, Open Sans, sans-serif"

# panel a waveform
a_pre_t = 53.0 + 0.025 * np.arange(len(a_pre_b))
a_burst_t = [p[0] for p in a_burst]
a_burst_b = [p[1] for p in a_burst]
a_post_t = 54.5 + 0.025 * (1 + np.arange(len(a_post_b)))
wave_a_t = np.concatenate([a_pre_t, a_burst_t, a_post_t])
wave_a_b = np.concatenate([a_pre_b, a_burst_b, a_post_b])

# full waveform (baseline samples + detailed burst + isolated pulses), ordered in time
full_t = np.concatenate([np.arange(len(b_pre)), wave_a_t, 57 + np.arange(len(b_post)),
                         [e[0] for e in b_events]])
full_b = np.concatenate([b_pre, wave_a_b, b_post, [e[1] for e in b_events]])
order = np.argsort(full_t, kind="stable")
wave_t = full_t[order]
wave_b = full_b[order]

b_src = b_src_1 + b_src_2 + b_src_3
c_src = (c_quiet + c_src_1 + c_src_2 + c_src_3 + c_src_4 + c_src_5 + c_src_6 + c_src_7 + c_src_8 + c_src_9
         + c_src_10 + c_src_11)


def lab(v):
    return str(v).replace("\u2212", "-")


fig = go.Figure()
# panel a
fig.add_trace(go.Scatter(x=wave_a_t, y=wave_a_b, mode="lines", line=dict(color="black", width=2.4),
                         xaxis="x", yaxis="y", hoverinfo="skip"))
fig.add_trace(go.Scatter(x=a_src_t, y=a_src_alt, mode="markers", xaxis="x", yaxis="y2",
                         marker=dict(size=14, color=a_src_pow, colorscale=RAINBOW, cmin=DBW_RANGE[0],
                                     cmax=DBW_RANGE[1], line=dict(width=0))))
# panel b
fig.add_trace(go.Scatter(x=wave_t, y=wave_b, mode="lines", line=dict(color="black", width=3),
                         xaxis="x2", yaxis="y3", hoverinfo="skip"))
fig.add_trace(go.Scatter(x=[p[0] for p in b_src], y=[p[1] for p in b_src], mode="markers", xaxis="x2", yaxis="y4",
                         marker=dict(size=9, color=[p[2] for p in b_src], colorscale=RAINBOW,
                                     cmin=DBW_RANGE[0], cmax=DBW_RANGE[1], line=dict(width=0))))
# panel c
fig.add_trace(go.Scatter(x=[p[0] for p in c_src], y=[p[1] for p in c_src], mode="markers", xaxis="x3", yaxis="y5",
                         marker=dict(size=6.5, color=[p[2] for p in c_src], colorscale=RAINBOW,
                                     cmin=COUNT_RANGE[0], cmax=COUNT_RANGE[1], line=dict(width=0))))
fig.add_trace(go.Scatter(x=wave_t, y=wave_b, mode="lines", line=dict(color=BLUE, width=1.8),
                         xaxis="x3", yaxis="y6", hoverinfo="skip"))

# colour bars as heatmaps
for (rng, xa, ya) in [(DBW_RANGE, "x4", "y7"), (DBW_RANGE, "x5", "y8"), (COUNT_RANGE, "x6", "y9")]:
    vals = np.linspace(rng[0], rng[1], 256)
    fig.add_trace(go.Heatmap(z=vals.reshape(-1, 1), x=[0], y=vals, colorscale=RAINBOW, zmin=rng[0], zmax=rng[1],
                             showscale=False, xaxis=xa, yaxis=ya, hoverinfo="skip"))

tickfont = dict(family=FONT, size=19, color="black")


def xaxis(domain, anchor, rng, dtick, tick0, minor, fmt=None):
    d = dict(domain=domain, anchor=anchor, range=rng, showline=True, linecolor="black", linewidth=1.6,
             mirror="ticks", ticks="inside", ticklen=8, tickwidth=1.5, tickcolor="black", dtick=dtick, tick0=tick0,
             minor=dict(dtick=minor, tick0=tick0, ticks="inside", ticklen=4, tickwidth=1.2, tickcolor="black",
                        showgrid=False),
             showgrid=False, zeroline=False, tickfont=tickfont, automargin=False, layer="above traces")
    if fmt:
        d["tickformat"] = fmt
    return d


def yaxis(domain, anchor, rng, tickvals, minor, side="left", overlaying=None, color="black",
          majlen=17, minlen=9):
    d = dict(range=rng, anchor=anchor, side=side, showline=True, linecolor=color, linewidth=1.6,
             ticks="inside", ticklen=majlen, tickwidth=1.5, tickcolor=color, tickmode="array",
             tickvals=tickvals, ticktext=[lab(v) for v in tickvals],
             minor=dict(dtick=minor, tick0=0, ticks="inside", ticklen=minlen, tickwidth=1.2, tickcolor=color,
                        showgrid=False),
             showgrid=False, zeroline=False, tickfont=dict(family=FONT, size=19, color=color), automargin=False,
             layer="above traces")
    if overlaying:
        d["overlaying"] = overlaying
    else:
        d["domain"] = domain
    return d


def cbx(domain, anchor):
    return dict(domain=domain, anchor=anchor, range=[-0.5, 0.5], showticklabels=False, ticks="", showgrid=False,
                zeroline=False, showline=True, linecolor="black", linewidth=1.2, mirror=True, fixedrange=True,
                automargin=False)


def cby(domain, anchor, rng, tickvals, minor):
    return dict(domain=domain, anchor=anchor, range=rng, side="left", tickmode="array", tickvals=tickvals,
                ticktext=[lab(v) for v in tickvals], ticks="outside", ticklen=5, tickwidth=1.2, tickcolor="black",
                minor=dict(dtick=minor, tick0=0, ticks="outside", ticklen=2, tickcolor="black"),
                showgrid=False, zeroline=False, showline=True, linecolor="black", linewidth=1.2, mirror=True,
                tickfont=tickfont, automargin=False)


fig.update_layout(
    width=FW, height=FH, margin=dict(l=0, r=0, t=0, b=0, pad=0, autoexpand=False), paper_bgcolor="white",
    plot_bgcolor="white", showlegend=False, font=dict(family=FONT, size=19, color="black"),
    xaxis=xaxis(XD, "y", A_XRANGE, 0.5, 53.0, 0.1, ".1f"),
    yaxis=yaxis(YA, "x", BNT_RANGE, BNT_TICKS, 1),
    yaxis2=yaxis(None, "x", A_ALT_RANGE, A_ALT_TICKS, 0.1, side="right", overlaying="y", majlen=15, minlen=7),
    xaxis2=xaxis(XD, "y3", B_XRANGE, 50, 0, 10),
    yaxis3=yaxis(YB, "x2", BNT_RANGE, BNT_TICKS, 1),
    yaxis4=yaxis(None, "x2", B_ALT_RANGE, B_ALT_TICKS, 0.5, side="right", overlaying="y3", majlen=17, minlen=9),
    xaxis3=xaxis(XD, "y5", B_XRANGE, 50, 0, 10),
    yaxis5=yaxis(YC, "x3", C_PWR_RANGE, PWR_TICKS, 1, majlen=17, minlen=9),
    yaxis6=yaxis(None, "x3", C_BNT_RANGE, BNT_TICKS, 1, side="right", overlaying="y5", color=BLUE, majlen=18,
                 minlen=9),
    xaxis4=cbx(CBX, "y7"), yaxis7=cby(YA, "x4", DBW_RANGE, DBW_TICKS, 1),
    xaxis5=cbx(CBX, "y8"), yaxis8=cby(YB, "x5", DBW_RANGE, DBW_TICKS, 1),
    xaxis6=cbx(CBX, "y9"), yaxis9=cby(YC, "x6", COUNT_RANGE, COUNT_TICKS, 100),
)


# dotted zoom connectors (computed from the axis scales)
def bx(t):
    return XD[0] + (t - B_XRANGE[0]) / (B_XRANGE[1] - B_XRANGE[0]) * (XD[1] - XD[0])


for xa, tb in [(XD[0], A_XRANGE[0]), (XD[1], A_XRANGE[1])]:
    fig.add_shape(type="line", xref="paper", yref="paper", x0=xa, y0=YA[0] - 2 / FH, x1=bx(tb), y1=YB[1],
                  line=dict(color="#8a8a8a", width=2, dash="dot"))


def ann(text, x, y, size=19, color="black", angle=0, family=FONT, xanchor="center"):
    fig.add_annotation(text=text, x=PX(x), y=PY(y), xref="paper", yref="paper", showarrow=False,
                       textangle=angle, font=dict(family=family, size=size, color=color), xanchor=xanchor,
                       yanchor="middle")


# axis titles
ann("B(nT)", 27, 118, angle=-90)
ann("B(nT)", 27, 385, angle=-90)
ann("Power (dBm)", 22, 635, angle=-90)
ann("Altitude(km)", 1083, 118, angle=-90)
ann("Altitude(km)", 1097, 385, angle=-90)
ann("B(nT)", 1101, 635, angle=-90, color=BLUE)
ann("Power (dBW)", 1162, 118, angle=-90)
ann("Power (dBW)", 1165, 385, angle=-90)
ann("Count", 1142, 635, angle=-90)
ann("Time (ms)from 2018-10-02T13:59:19.235.554", 546, 777)

# panel labels
ann("<b>a)</b>", 107, 51, size=27, family=BOLD, xanchor="left")
ann("<b>b)</b>", 107, 314, size=27, family=BOLD, xanchor="left")
ann("<b>c)</b>", 107, 568, size=27, family=BOLD, xanchor="left")
ann("<b>SAETTA B station</b>", 887, 716, size=27, family=BOLD)

# 16.4 kA arrow annotation (points at the first return-stroke peak)
fig.add_annotation(x=53.935, y=5.0, xref="x", yref="y", text="<b>16.4 kA</b>", showarrow=True, arrowhead=2,
                   arrowsize=1, arrowwidth=2, arrowcolor="#ff1a1a", ax=74, ay=-24,
                   font=dict(family=BOLD, size=20, color="#ff1a1a"))

fig.write_html("out.html")
